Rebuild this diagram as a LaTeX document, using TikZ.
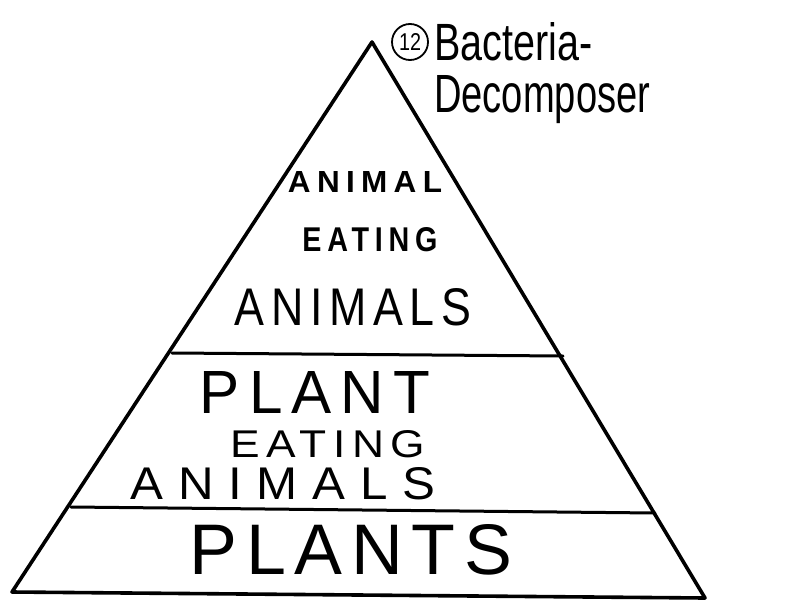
\documentclass[tikz,border=0pt]{standalone}
\usepackage{fontspec}
\setmainfont{Liberation Sans}
\usepackage{graphicx}
\newcommand{\fitxt}[3]{\resizebox{#1pt}{#2pt}{#3}}
\begin{document}
\begin{tikzpicture}[x=1pt,y=-1pt,line join=round,line cap=round,
  edge/.style={line width=3.6pt},
  tier/.style={line width=3pt},
  lbl/.style={inner sep=0pt,anchor=center}]
\useasboundingbox (0,0) rectangle (800,608);
\coordinate (apex) at (372,42);
\coordinate (bl) at (12,592);
\coordinate (br) at (705,598);
\coordinate (l1a) at (172,353);
\coordinate (l1b) at (563,356);
\coordinate (l2a) at (71,507);
\coordinate (l2b) at (655,513);
\draw[edge] (apex) -- (br) -- (bl) -- cycle;
\draw[tier] (l1a) -- (l1b);
\draw[tier] (l2a) -- (l2b);
% top tier
\node[lbl] (a1) at (365,182) {\fitxt{154}{21}{\bfseries\addfontfeatures{LetterSpace=20}ANIMAL}};
\node[lbl] (a2) at (370,240) {\fitxt{135}{24}{\bfseries\addfontfeatures{LetterSpace=20}EATING}};
\node[lbl] (a3) at (353,307) {\fitxt{237}{37}{\addfontfeatures{LetterSpace=15}ANIMALS}};
% middle tier
\node[lbl] (b1) at (315,392) {\fitxt{230}{42}{\addfontfeatures{LetterSpace=15}PLANT}};
\node[lbl] (b2) at (328,444) {\fitxt{195}{27}{\addfontfeatures{LetterSpace=15}EATING}};
\node[lbl] (b3) at (283,484) {\fitxt{305}{32}{\addfontfeatures{LetterSpace=30}ANIMALS}};
% bottom tier
\node[lbl] (c1) at (351,550) {\fitxt{322}{50}{\addfontfeatures{LetterSpace=12}PLANTS}};
% label
\node[draw,circle,line width=1.8pt,minimum size=36pt,inner sep=0pt] (num) at (410,42) {\fitxt{22}{17}{12}};
\node[inner sep=0pt,anchor=base west] (bac) at (434,60) {\fitxt{158}{38}{Bacteria-}};
\node[inner sep=0pt,anchor=base west] (dec) at (434,112) {\fitxt{216}{37}{Decomposer}};
\end{tikzpicture}
\end{document}
